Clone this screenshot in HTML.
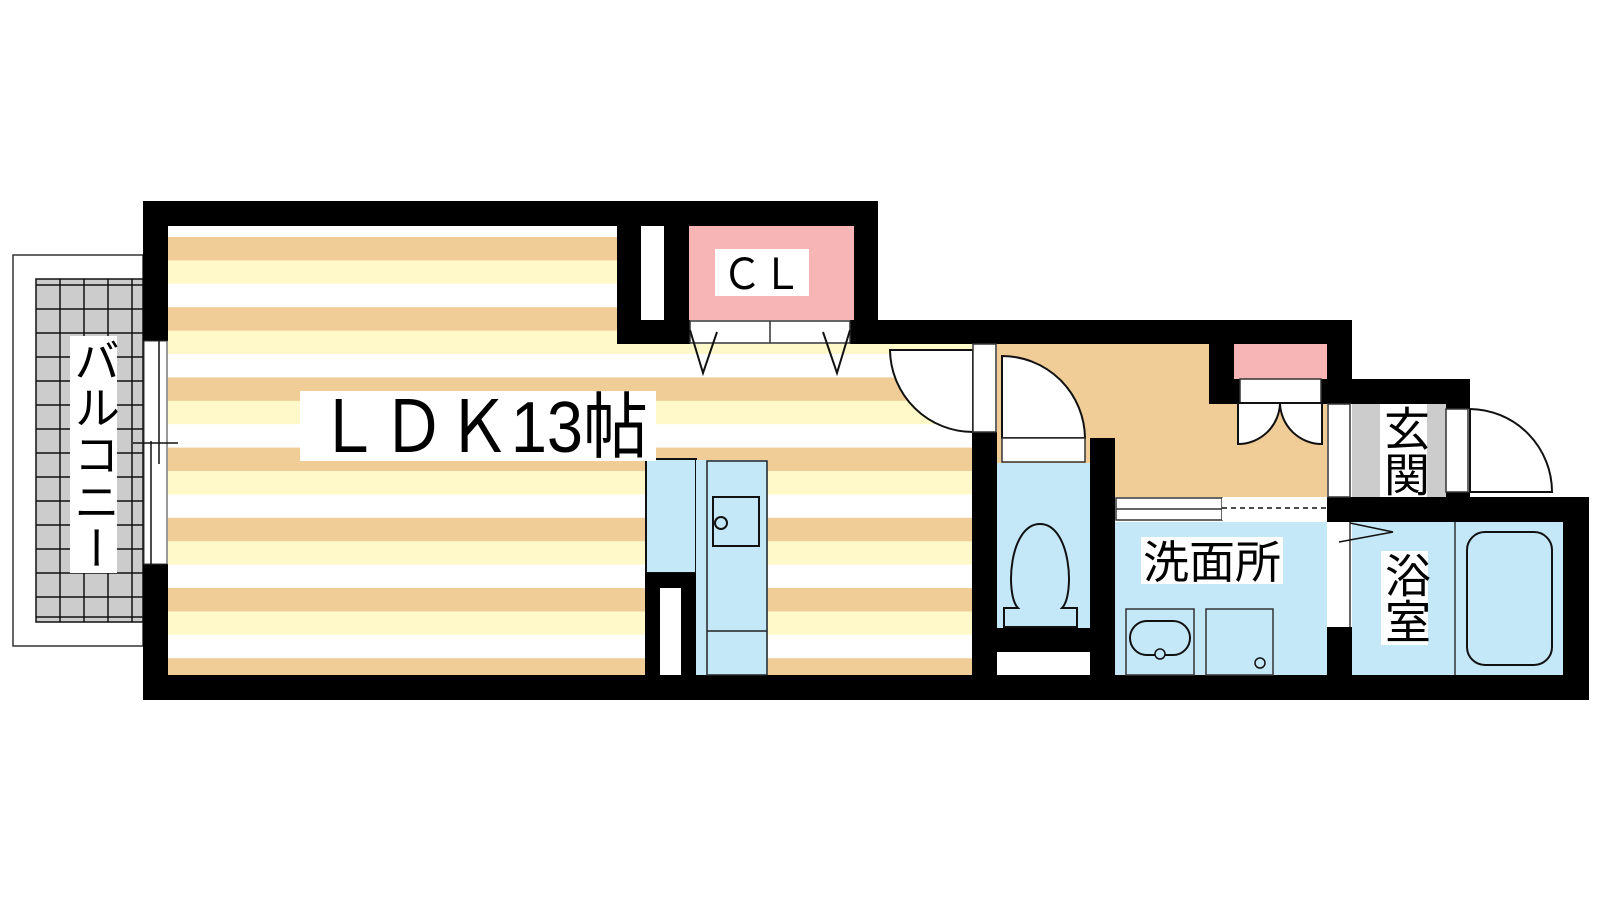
<!DOCTYPE html>
<html><head><meta charset="utf-8">
<style>
html,body{margin:0;padding:0;background:#fff;}
#wrap{position:relative;width:1600px;height:900px;overflow:hidden;}
svg{position:absolute;left:0;top:0;}
.v{position:absolute;background:#fff;writing-mode:vertical-rl;font-family:"Liberation Sans","Noto Sans CJK JP",sans-serif;color:#000;text-align:center;display:flex;align-items:center;justify-content:center;}
</style></head><body><div id="wrap">
<svg width="1600" height="900" viewBox="0 0 1600 900" xmlns="http://www.w3.org/2000/svg">
<defs>
<pattern id="st" patternUnits="userSpaceOnUse" x="0" y="237" width="100" height="70.2">
<rect x="0" y="0" width="100" height="23.4" fill="#f0cc96"/>
<rect x="0" y="23.4" width="100" height="23.4" fill="#fff8c8"/>
<rect x="0" y="46.8" width="100" height="23.4" fill="#fff"/>
</pattern>
</defs>
<!-- balcony -->
<rect x="13" y="255" width="130" height="391" fill="#fff" stroke="#333" stroke-width="1.5"/>
<rect x="36" y="279" width="107" height="343" fill="#cccccc" stroke="#111" stroke-width="1.5"/>
<g stroke="#111" stroke-width="1.5">
<line x1="60" y1="279" x2="60" y2="622"/><line x1="84" y1="279" x2="84" y2="622"/><line x1="108" y1="279" x2="108" y2="622"/><line x1="132" y1="279" x2="132" y2="622"/>
<line x1="36" y1="285" x2="143" y2="285"/><line x1="36" y1="309" x2="143" y2="309"/><line x1="36" y1="333" x2="143" y2="333"/><line x1="36" y1="357" x2="143" y2="357"/><line x1="36" y1="381" x2="143" y2="381"/><line x1="36" y1="405" x2="143" y2="405"/><line x1="36" y1="429" x2="143" y2="429"/><line x1="36" y1="453" x2="143" y2="453"/><line x1="36" y1="477" x2="143" y2="477"/><line x1="36" y1="501" x2="143" y2="501"/><line x1="36" y1="525" x2="143" y2="525"/><line x1="36" y1="549" x2="143" y2="549"/><line x1="36" y1="573" x2="143" y2="573"/><line x1="36" y1="597" x2="143" y2="597"/><line x1="36" y1="617" x2="143" y2="617"/>
</g>
<!-- LDK floor -->
<rect x="168" y="226" width="449" height="449" fill="url(#st)"/>
<rect x="617" y="344" width="355" height="331" fill="url(#st)"/>
<!-- tan hall -->
<rect x="997" y="344" width="330" height="153" fill="#f0cc96"/>
<!-- blues -->
<rect x="997" y="463" width="93" height="165" fill="#c4e8f8"/>
<rect x="1115" y="522" width="212" height="153" fill="#c4e8f8"/>
<rect x="1352" y="522" width="211" height="153" fill="#c4e8f8"/>
<rect x="1352" y="404" width="94" height="93" fill="#cccccc"/>
<!-- pink closets -->
<rect x="689" y="226" width="165" height="94" fill="#f8b5b5"/>
<rect x="1234" y="344" width="93" height="35" fill="#f8b5b5"/>
<!-- walls -->
<g fill="#000">
<rect x="143" y="201" width="735" height="25"/>
<rect x="143" y="201" width="25" height="140"/>
<rect x="143" y="564" width="25" height="136"/>
<rect x="143" y="675" width="1446" height="25"/>
<rect x="617" y="226" width="24" height="118"/>
<rect x="664" y="226" width="25" height="118"/>
<rect x="617" y="320" width="73" height="24"/>
<rect x="641" y="320" width="23" height="24"/>
<rect x="850" y="320" width="502" height="24"/>
<rect x="854" y="201" width="24" height="143"/>
<rect x="972" y="432" width="25" height="243"/>
<rect x="1090" y="438" width="25" height="237"/>
<rect x="997" y="628" width="103" height="24"/>
<rect x="1209" y="344" width="25" height="60"/>
<rect x="1209" y="379" width="31" height="25"/>
<rect x="1321" y="379" width="31" height="25"/>
<rect x="1327" y="320" width="25" height="84"/>
<rect x="1352" y="379" width="118" height="25"/>
<rect x="1446" y="404" width="24" height="5"/>
<rect x="1446" y="492" width="24" height="6"/>
<rect x="1327" y="497" width="262" height="25"/>
<rect x="1327" y="627" width="25" height="48"/>
<rect x="1563" y="497" width="26" height="203"/>
</g>
<!-- window balcony -->
<rect x="144" y="341" width="23" height="223" fill="#fff" stroke="#333" stroke-width="1"/>
<line x1="151" y1="441" x2="151" y2="564" stroke="#111" stroke-width="1.5"/>
<line x1="159" y1="341" x2="159" y2="464" stroke="#111" stroke-width="1.5"/>
<line x1="133" y1="443" x2="178" y2="443" stroke="#111" stroke-width="1.5"/>
<!-- closet1 -->
<rect x="641" y="226" width="23" height="94" fill="#fff"/>
<rect x="690" y="321" width="160" height="22" fill="#fff" stroke="#333" stroke-width="1.5"/>
<line x1="770" y1="321" x2="770" y2="343" stroke="#333" stroke-width="1.5"/>
<polyline points="690,330 703,373 717,332" fill="none" stroke="#111" stroke-width="2"/>
<polyline points="823,332 837,373 850,330" fill="none" stroke="#111" stroke-width="2"/>
<!-- LDK door -->
<path d="M973 350 L890 350 A83 83 0 0 0 973 432 Z" fill="#fff" stroke="#111" stroke-width="2"/>
<rect x="973" y="344" width="23" height="88" fill="#fff" stroke="#333" stroke-width="1.5"/>
<!-- toilet door -->
<path d="M1002 438 L1002 356 A83 83 0 0 1 1085 438 Z" fill="#fff" stroke="#111" stroke-width="2"/>
<rect x="1002" y="438" width="83" height="24" fill="#fff" stroke="#333" stroke-width="1.5"/>
<rect x="997" y="652" width="93" height="23" fill="#fff"/>
<!-- toilet -->
<path d="M1018 608 C1005 595 1009 524 1040 524 C1071 524 1075 595 1062 608 L1077 608 L1077 627 L1004 627 L1004 608 Z" fill="#c4e8f8" stroke="#111" stroke-width="2"/>
<!-- closet2 -->
<rect x="1240" y="379" width="81" height="24" fill="#fff" stroke="#333" stroke-width="1.5"/>
<path d="M1238 403 L1238 444 A42 42 0 0 0 1280 403 Z" fill="#fff" stroke="#111" stroke-width="2"/>
<path d="M1322 403 L1322 444 A42 42 0 0 1 1280 403 Z" fill="#fff" stroke="#111" stroke-width="2"/>
<!-- entrance -->
<rect x="1328" y="404" width="22" height="93" fill="#fff" stroke="#333" stroke-width="1.5"/>
<rect x="1446" y="409" width="22" height="83" fill="#fff" stroke="#333" stroke-width="1.5"/>
<path d="M1470 492 L1470 409 A83 83 0 0 1 1552 492 Z" fill="#fff" stroke="#111" stroke-width="2"/>
<!-- sliding door wash -->
<rect x="1116" y="498" width="106" height="22" fill="#fff" stroke="#333" stroke-width="1.5"/>
<line x1="1116" y1="509" x2="1222" y2="509" stroke="#333" stroke-width="1.5"/>
<rect x="1222" y="498" width="105" height="22" fill="#fff"/>
<line x1="1222" y1="508" x2="1327" y2="508" stroke="#111" stroke-width="1.5" stroke-dasharray="5,4"/>
<!-- bath door -->
<rect x="1328" y="522" width="22" height="105" fill="#fff"/>
<line x1="1350" y1="522" x2="1350" y2="627" stroke="#333" stroke-width="1.5"/>
<polyline points="1339,542 1393,532 1350,523" fill="none" stroke="#111" stroke-width="1.5"/>
<!-- wash fixtures -->
<rect x="1126" y="609" width="68" height="66" fill="none" stroke="#333" stroke-width="1.5"/>
<rect x="1130" y="621" width="60" height="34" rx="17" fill="none" stroke="#111" stroke-width="2"/>
<circle cx="1160" cy="654" r="5" fill="#c4e8f8" stroke="#111" stroke-width="1.5"/>
<rect x="1206" y="609" width="67" height="66" fill="none" stroke="#333" stroke-width="1.5"/>
<circle cx="1260" cy="663" r="5" fill="none" stroke="#111" stroke-width="1.5"/>
<!-- bath -->
<line x1="1455" y1="522" x2="1455" y2="675" stroke="#333" stroke-width="1.5"/>
<rect x="1467" y="532" width="85" height="133" rx="18" fill="none" stroke="#111" stroke-width="2"/>
<!-- kitchen -->
<rect x="646" y="459" width="50" height="114" fill="#c4e8f8" stroke="#111" stroke-width="2"/>
<rect x="645" y="573" width="51" height="102" fill="#000"/>
<rect x="660" y="588" width="21" height="87" fill="#fff"/>
<rect x="696" y="460" width="72" height="215" fill="#c4e8f8"/>
<rect x="707" y="461" width="60" height="214" fill="none" stroke="#222" stroke-width="1.5"/>
<line x1="707" y1="631" x2="767" y2="631" stroke="#222" stroke-width="1.5"/>
<rect x="713" y="497" width="46" height="49" fill="none" stroke="#111" stroke-width="2"/>
<circle cx="721" cy="523" r="6" fill="none" stroke="#111" stroke-width="2"/>
<!-- labels -->
<rect x="300" y="391" width="356" height="70" fill="#fff"/>
<text x="316" y="452" font-family="Liberation Sans, Noto Sans CJK JP, sans-serif" font-size="72" textLength="332" lengthAdjust="spacingAndGlyphs">ＬＤＫ13帖</text>
<rect x="715" y="249" width="94" height="47" fill="#fff"/>
<text x="722" y="289" font-family="Liberation Sans, Noto Sans CJK JP, sans-serif" font-size="43" textLength="80" lengthAdjust="spacingAndGlyphs">ＣＬ</text>
<rect x="1141" y="537" width="142" height="47" fill="#fff"/>
<text x="1143" y="578" font-family="Liberation Sans, Noto Sans CJK JP, sans-serif" font-size="45" textLength="138" lengthAdjust="spacingAndGlyphs">洗面所</text>
</svg>
<div class="v" style="left:70px;top:336px;width:47px;height:237px;font-size:46px;line-height:47px;letter-spacing:1px;">バルコニー</div>
<div class="v" style="left:1380px;top:404px;width:47px;height:93px;font-size:46px;line-height:47px;">玄関</div>
<div class="v" style="left:1381px;top:551px;width:47px;height:94px;font-size:46px;line-height:47px;">浴室</div>
</div></body></html>
